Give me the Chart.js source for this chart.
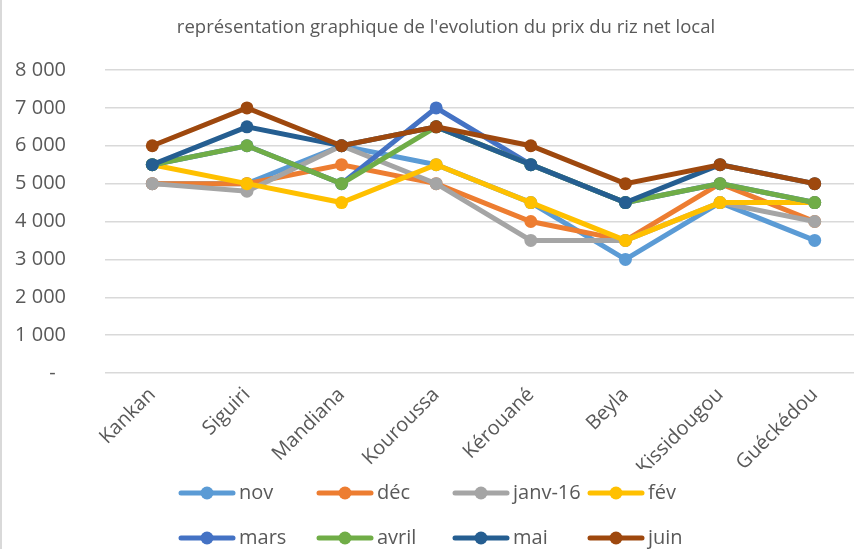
<!DOCTYPE html>
<html>
<head>
<meta charset="utf-8">
<script src="https://cdn.jsdelivr.net/npm/chart.js@4"></script>
<style>
    html, body { margin: 0; padding: 0; overflow: hidden; background: #fff; }
    #wrap { position: relative; width: 890px; height: 549px; }
    #edge { position: absolute; left: 0; top: 0; width: 2px; height: 549px; background: #d9d9d9; }
</style>
</head>
<body>
<div id="wrap">
    <canvas id="riz" width="890" height="549"></canvas>
    <div id="edge"></div>
</div>
<script>
const villes = ["Kankan", "Siguiri", "Mandiana", "Kouroussa", "Kérouané", "Beyla", "Kissidougou", "Guéckédou"];

const mois = ["nov", "déc", "janv-16", "fév", "mars", "avril", "mai", "juin"];

const nov   = [5000, 5000, 6000, 5500, 4500, 3000, 4500, 3500];
const dec   = [5000, 5000, 5500, 5000, 4000, 3500, 5000, 4000];
const janv  = [5000, 4800, 6000, 5000, 3500, 3500, 4500, 4000];
const fev   = [5500, 5000, 4500, 5500, 4500, 3500, 4500, 4500];
const mars  = [5500, 6000, 5000, 7000, 5500, 4500, 5000, 4500];
const avril = [5500, 6000, 5000, 6500, 5500, 4500, 5000, 4500];
const mai   = [5500, 6500, 6000, 6500, 5500, 4500, 5500, 5000];
const juin  = [6000, 7000, 6000, 6500, 6000, 5000, 5500, 5000];

const series  = [nov, dec, janv, fev, mars, avril, mai, juin];
const couleurs = ["#5B9BD5", "#ED7D31", "#A5A5A5", "#FFC000", "#4472C4", "#70AD47", "#255E91", "#9E480E"];

const yTicks = [0, 1000, 2000, 3000, 4000, 5000, 6000, 7000, 8000];

const titre = "représentation graphique de l'evolution du prix du riz net local";

const gris = "#595959";
const police = "'Open Sans', sans-serif";

function formatPrix(v) {
    if (v === 0) return "-  ";
    return String(v).replace(/\B(?=(\d{3})+(?!\d))/g, " ");
}

// titre + legende dessines a la main, 4 par ligne comme dans Excel
const legendeX = [179, 317, 453, 588];
const legendeY = [493, 538];

const legendePlugin = {
    id: "legendeExcel",
    afterDraw(chart) {
        const c = chart.ctx;
        c.save();
        c.fillStyle = gris;
        c.font = `18.5px ${police}`;
        c.textAlign = "center";
        c.textBaseline = "middle";
        c.fillText(titre, 446, 28);

        chart.data.datasets.forEach((ds, i) => {
            const x = legendeX[i % 4];
            const y = legendeY[Math.floor(i / 4)];
            c.strokeStyle = ds.borderColor;
            c.lineWidth = 5;
            c.lineCap = "round";
            c.beginPath();
            c.moveTo(x + 2, y);
            c.lineTo(x + 54, y);
            c.stroke();
            c.fillStyle = ds.borderColor;
            c.beginPath();
            c.arc(x + 28, y, 6.5, 0, Math.PI * 2);
            c.fill();
            c.fillStyle = gris;
            c.font = `20px ${police}`;
            c.textBaseline = "middle";
            c.textAlign = "left";
            c.fillText(ds.label, x + 60, y);
        });
        c.restore();
    }
};

new Chart(document.getElementById("riz"), {
    type: "line",
    data: {
        labels: villes,
        datasets: series.map((s, i) => ({
            label: mois[i],
            data: s,
            borderColor: couleurs[i],
            backgroundColor: couleurs[i],
            pointBackgroundColor: couleurs[i],
            pointBorderColor: couleurs[i],
            borderWidth: 5,
            pointRadius: 6.5,
            pointBorderWidth: 0,
            tension: 0,
            order: series.length - i,
        }))
    },
    options: {
        responsive: false,
        animation: false,
        events: [],
        layout: { padding: { left: 0, right: 28, top: 70, bottom: 80 } },
        plugins: {
            legend: { display: false },
            tooltip: { enabled: false },
            title: { display: false },
        },
        scales: {
            x: {
                offset: true,
                grid: { display: false, drawTicks: false },
                border: { display: false },
                ticks: {
                    color: gris,
                    font: { family: police, size: 20 },
                    maxRotation: 45,
                    minRotation: 45,
                    padding: 10,
                },
                afterFit: (scale) => { scale.height = 96; },
            },
            y: {
                min: 0,
                max: 8000,
                afterBuildTicks: (scale) => { scale.ticks = yTicks.map(v => ({ value: v })); },
                grid: { color: "#d9d9d9", lineWidth: 1.5, drawTicks: false },
                border: { display: false },
                ticks: {
                    color: gris,
                    font: { family: police, size: 20 },
                    padding: 39,
                    callback: (v) => formatPrix(v),
                },
                afterFit: (scale) => { scale.width = 105; },
            },
        },
    },
    plugins: [legendePlugin],
});
</script>
</body>
</html>
